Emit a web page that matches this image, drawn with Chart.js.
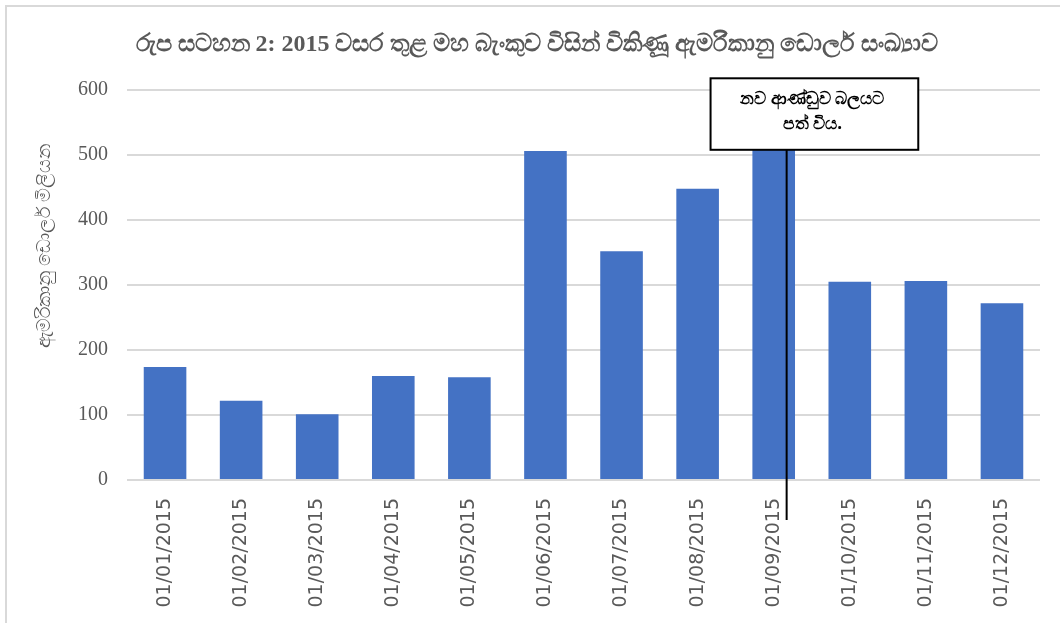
<!DOCTYPE html>
<html>
<head>
<meta charset="utf-8">
<script src="https://cdn.jsdelivr.net/npm/chart.js@4.4.0/dist/chart.umd.min.js"></script>
<style>
  html, body { margin: 0; padding: 0; background: #fff; }
  #wrap { position: relative; width: 1060px; height: 623px; overflow: hidden; }
  #frame { position: absolute; left: 5px; top: 5px; width: 1100px; height: 700px;
           border-left: 2px solid #d9d9d9; border-top: 2px solid #d9d9d9; }
  canvas { position: absolute; left: 0; top: 0; }
</style>
</head>
<body>
<div id="wrap">
  <div id="frame"></div>
  <canvas id="salesChart" width="1060" height="623"></canvas>
</div>
<script>
// months of 2015
const months = [
  '01/01/2015', '01/02/2015', '01/03/2015', '01/04/2015',
  '01/05/2015', '01/06/2015', '01/07/2015', '01/08/2015',
  '01/09/2015', '01/10/2015', '01/11/2015', '01/12/2015'
];
// USD sold by central bank (millions)
const usdSold = [174, 122, 101, 160, 158, 506, 352, 448, 555, 305, 306, 272];
const yTicks = [0, 100, 200, 300, 400, 500, 600];

const chartTitle = 'රුප සටහන 2: 2015 වසර තුළ මහ බැංකුව විසින් විකිණූ ඇමරිකානු ඩොලර් සංඛ්‍යාව';
const yTitle = 'ඇමරිකානු ඩොලර් මිලියන';
const noteLines = ['නව ආණ්ඩුව බලයට', 'පත් විය.'];
const noteIndex = 8; // September - new government

const grey = '#595959';

// chart title, y axis title, note box + pointer line drawn over the bars
const notePlugin = {
  id: 'note',
  afterDatasetsDraw(chart) {
    const { ctx, scales: { x, y } } = chart;
    const lineX = x.getPixelForValue(noteIndex + 0.17);
    const boxL = x.getPixelForValue(noteIndex - 0.83);
    const boxR = x.getPixelForValue(noteIndex + 1.9);
    const boxT = y.getPixelForValue(618);
    const boxB = y.getPixelForValue(508);
    ctx.save();
    ctx.strokeStyle = '#000';
    ctx.lineWidth = 2;
    ctx.beginPath();
    ctx.moveTo(lineX, boxB);
    ctx.lineTo(lineX, y.getPixelForValue(0) + 40);
    ctx.stroke();
    ctx.fillStyle = '#fff';
    ctx.fillRect(boxL, boxT, boxR - boxL, boxB - boxT);
    ctx.strokeRect(boxL, boxT, boxR - boxL, boxB - boxT);
    ctx.fillStyle = '#000';
    ctx.font = 'bold 17px "Noto Sans", "DejaVu Sans", sans-serif';
    ctx.textAlign = 'center';
    ctx.textBaseline = 'middle';
    const cx = (boxL + boxR) / 2 - 2;
    ctx.fillText(noteLines[0], cx, boxT + 21);
    ctx.fillText(noteLines[1], cx, boxT + 46);

    ctx.fillStyle = grey;
    ctx.font = 'bold 24px "Liberation Serif", "Noto Sans", serif';
    ctx.fillText(chartTitle, 537, 45);

    // y axis title, a little above the axis middle as in the source
    ctx.translate(45, y.getPixelForValue(360));
    ctx.rotate(-Math.PI / 2);
    ctx.font = '19px "Noto Sans", sans-serif';
    ctx.fillText(yTitle, 0, 0);
    ctx.restore();
  }
};

const ctx = document.getElementById('salesChart').getContext('2d');
new Chart(ctx, {
  type: 'bar',
  data: {
    labels: months,
    datasets: [{
      data: usdSold,
      backgroundColor: '#4472C4',
      borderWidth: 0,
      categoryPercentage: 1,
      barPercentage: 0.56
    }]
  },
  options: {
    responsive: false,
    animation: false,
    layout: { padding: { left: 0, right: 20, top: 90, bottom: 0 } },
    plugins: {
      legend: { display: false },
      tooltip: { enabled: false },
      title: { display: false }
    },
    scales: {
      x: {
        afterFit(axis) { axis.height = 143; },
        grid: { display: false },
        border: { display: false },
        ticks: {
          color: grey,
          font: { family: '"DejaVu Sans", sans-serif', size: 19 },
          maxRotation: 90,
          minRotation: 90,
          padding: 10
        }
      },
      y: {
        min: 0,
        max: 600,
        afterBuildTicks(axis) { axis.ticks = yTicks.map(v => ({ value: v })); },
        afterFit(axis) { axis.width = 127; },
        grid: { color: '#d9d9d9', lineWidth: 2, drawTicks: false },
        border: { display: false },
        ticks: {
          color: grey,
          font: { family: '"Liberation Serif", serif', size: 20 },
          padding: 19
        }
      }
    }
  },
  plugins: [notePlugin]
});
</script>
</body>
</html>
